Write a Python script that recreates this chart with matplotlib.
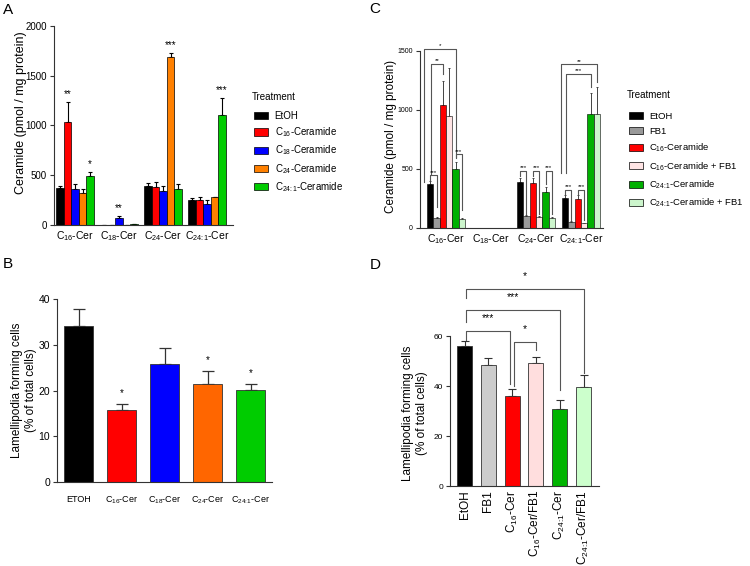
import matplotlib
matplotlib.use('Agg')
import matplotlib.pyplot as plt
from matplotlib.patches import Patch
import numpy as np

plt.rcParams['font.family'] = ['Liberation Sans', 'DejaVu Sans']
plt.rcParams['mathtext.default'] = 'regular'

# ---------------- data ----------------
# Panel A
groups_cer = ['C$_{16}$-Cer', 'C$_{18}$-Cer', 'C$_{24}$-Cer', r'C$_{24\!:\!1}$-Cer']
treat_a = ['EtOH', 'C$_{16}$-Ceramide', 'C$_{18}$-Ceramide', 'C$_{24}$-Ceramide', r'C$_{24\!:\!1}$-Ceramide']
a_mean = [[375, 2, 389, 251],
          [1032, 2, 379, 251],
          [365, 70, 345, 211],
          [318, 2, 1685, 278],
          [492, 5, 358, 1102]]
a_err = [[20, 0, 36, 20],
         [208, 0, 53, 30],
         [44, 20, 50, 37],
         [45, 0, 40, 7],
         [45, 2, 51, 171]]
a_stars = [(0, 1, '**'), (0, 4, '*'), (1, 2, '**'), (2, 3, '***'), (3, 4, '***')]
colors_a = ['#000000', '#ff0000', '#0000ff', '#ff8000', '#00cc00']

# Panel B
b_labels = ['ETOH', 'C$_{16}$-Cer', 'C$_{18}$-Cer', 'C$_{24}$-Cer', r'C$_{24\!:\!1}$-Cer']
b_mean = [34.2, 15.7, 25.8, 21.4, 20.1]
b_err = [3.6, 1.4, 3.4, 2.9, 1.4]
b_stars = ['', '*', '', '*', '*']
colors_b = ['#000000', '#ff0000', '#0000ff', '#ff6600', '#00cc00']

# Panel C
treat_c = ['EtOH', 'FB1', 'C$_{16}$-Ceramide', 'C$_{16}$-Ceramide + FB1',
           r'C$_{24\!:\!1}$-Ceramide', r'C$_{24\!:\!1}$-Ceramide + FB1']
c_mean = [[376, 3, 390, 254],
          [85, 2, 99, 51],
          [1040, 2, 384, 246],
          [946, 2, 93, 40],
          [503, 2, 308, 963],
          [79, 3, 88, 969]]
c_err = [[20, 0, 37, 23],
         [5, 0, 8, 5],
         [203, 0, 43, 36],
         [410, 0, 8, 5],
         [57, 0, 39, 181],
         [5, 0, 6, 226]]
colors_c = ['#000000', '#999999', '#ff0000', '#ffe4e4', '#00b000', '#ccf5cc']
# (group, left treatment, right treatment, height, left leg end, right leg end, text, left shift)
c_brackets = [(0, 0, 1, 446, 404, 178, '***', 0.0),
              (0, 0, 2, 1393, 460, 1308, '**', 0.02),
              (0, 0, 4, 1520, 388, 599, '*', -0.13),
              (0, 4, 5, 624, 593, 150, '***', 0.0),
              (2, 0, 1, 483, 438, 121, '***', 0.0),
              (2, 2, 3, 483, 438, 121, '***', 0.0),
              (2, 4, 5, 483, 370, 121, '***', 0.0),
              (3, 0, 1, 325, 291, 65, '***', 0.0),
              (3, 2, 3, 325, 291, 65, '***', 0.0),
              (3, 0, 4, 1308, 463, 1195, '***', 0.02),
              (3, 0, 5, 1387, 463, 1237, '**', -0.08)]

# Panel D
d_labels = ['EtOH', 'FB1', 'C$_{16}$-Cer', 'C$_{16}$-Cer/FB1', r'C$_{24\!:\!1}$-Cer', r'C$_{24\!:\!1}$-Cer/FB1']
d_mean = [56.0, 48.5, 36.1, 49.3, 30.7, 39.7]
d_err = [2.0, 2.8, 2.8, 2.4, 3.7, 4.8]
colors_d = ['#000000', '#cccccc', '#ff0000', '#ffdede', '#00b400', '#ccffcc']
# (left bar, right bar, height, left leg end, right leg end, text)
d_brackets = [(0, 2, 62.0, 58.6, 41.0, '***'),
              (2, 3, 57.6, 40.0, 54.4, '*'),
              (0, 4, 70.4, 65.6, 38.4, '***'),
              (0, 5, 78.8, 75.2, 45.2, '*')]

fig = plt.figure(figsize=(7.5, 5.66), dpi=100)

def style(ax, fs_tick):
    for s in ['top', 'right']:
        ax.spines[s].set_visible(False)
    for s in ['left', 'bottom']:
        ax.spines[s].set_linewidth(0.8)
        ax.spines[s].set_color('#333333')
    ax.tick_params(axis='y', labelsize=fs_tick, length=3, width=0.8, color='#333333', pad=2)
    ax.tick_params(axis='x', length=0, pad=3)

def bracket(ax, x1, x2, y, yb1, yb2, text, fs, off):
    ax.plot([x1, x1, x2, x2], [yb1, y, y, yb2], color='#555555', lw=0.8, clip_on=False)
    ax.annotate(text, ((x1 + x2) / 2, y), xytext=(0, off), textcoords='offset points',
                ha='center', va='bottom', fontsize=fs, annotation_clip=False)

def legend(ax, colors, labels, x, y, ty, fs, sp):
    handles = [Patch(facecolor=c, edgecolor='black', linewidth=0.5) for c in colors]
    ax.legend(handles, labels, loc='upper left', bbox_to_anchor=(x, y),
              bbox_transform=fig.transFigure, frameon=False, fontsize=fs,
              handlelength=1.45, handleheight=0.75, labelspacing=sp, borderpad=0,
              borderaxespad=0, handletextpad=0.65)
    fig.text(x - 0.003, ty, 'Treatment', fontsize=7, ha='left', va='center')

# ---------------- A ----------------
ax = fig.add_axes([0.072, 0.6025, 0.2387, 0.3516])
gx = np.arange(len(groups_cer))
bw = 0.85 / len(treat_a)
for t in range(len(treat_a)):
    xs = gx + (t - 2) * bw
    ax.bar(xs, a_mean[t], bw, color=colors_a[t], edgecolor='black', linewidth=0.5, zorder=2)
    ax.errorbar(xs, a_mean[t], yerr=[np.zeros(4), a_err[t]], fmt='none', ecolor='black',
                elinewidth=0.8, capsize=1.5, capthick=0.8, zorder=1)
for g, t, s in a_stars:
    ax.annotate(s, (g + (t - 2) * bw, a_mean[t][g] + a_err[t][g]), xytext=(0, 2),
                textcoords='offset points', ha='center', va='bottom', fontsize=7)
ax.set_xlim(-0.48, 3.59)
ax.set_ylim(0, 2000)
ax.set_yticks([0, 500, 1000, 1500, 2000])
ax.set_xticks(gx)
ax.set_xticklabels(groups_cer, fontsize=7.5)
style(ax, 7)
ax.set_ylabel('Ceramide (pmol / mg protein)', fontsize=9)
ax.yaxis.set_label_coords(-0.15, 0.563)
legend(ax, colors_a, treat_a, 0.339, 1 - 111 / 566, 1 - 97 / 566, 7, 0.45)

# ---------------- B ----------------
ax = fig.add_axes([0.076, 0.1484, 0.2867, 0.3233])
bx = np.arange(len(b_labels))
ax.bar(bx, b_mean, 0.67, color=colors_b, edgecolor='#333333', linewidth=0.6, zorder=2)
ax.errorbar(bx, b_mean, yerr=[np.zeros(5), b_err], fmt='none', ecolor='#333333',
            elinewidth=0.9, capsize=4, capthick=0.9, zorder=1)
for i, s in enumerate(b_stars):
    if s:
        ax.annotate(s, (bx[i], b_mean[i] + b_err[i]), xytext=(0, 4), textcoords='offset points',
                    ha='center', va='bottom', fontsize=7)
ax.set_xlim(-0.5, 4.5)
ax.set_ylim(0, 40)
ax.set_yticks([0, 10, 20, 30, 40])
ax.set_xticks(bx)
ax.set_xticklabels(b_labels, fontsize=6.5)
style(ax, 7.5)
ax.tick_params(axis='x', pad=9)
ax.set_ylabel('Lamellipodia forming cells\n(% of total cells)', fontsize=8.5)
ax.yaxis.set_label_coords(-0.093, 0.5)

# ---------------- C ----------------
ax = fig.add_axes([0.56, 0.5972, 0.244, 0.3127])
bwc = 0.85 / len(treat_c)
for t in range(len(treat_c)):
    xs = gx + (t - 2.5) * bwc
    ax.bar(xs, c_mean[t], bwc, color=colors_c[t], edgecolor='black', linewidth=0.4, zorder=2)
    ax.errorbar(xs, c_mean[t], yerr=[np.zeros(4), c_err[t]], fmt='none', ecolor='#444444',
                elinewidth=0.7, capsize=1, capthick=0.7, zorder=1)
for g, t1, t2, y, yb1, yb2, s, dx in c_brackets:
    x1 = g + (t1 - 2.5) * bwc + dx
    x2 = g + (t2 - 2.5) * bwc
    bracket(ax, x1, x2, y, yb1, yb2, s, 4.5, 0.5)
ax.set_xlim(-0.58, 3.49)
ax.set_ylim(0, 1500)
ax.set_yticks([0, 500, 1000, 1500])
ax.set_xticks(gx)
ax.set_xticklabels(groups_cer, fontsize=7.5)
style(ax, 5)
ax.set_ylabel('Ceramide (pmol / mg protein)', fontsize=8.5)
ax.yaxis.set_label_coords(-0.126, 0.52)
legend(ax, colors_c, treat_c, 0.839, 1 - 112 / 566, 1 - 95 / 566, 6.8, 0.62)

# ---------------- D ----------------
ax = fig.add_axes([0.6, 0.1413, 0.1987, 0.265])
dx_ = np.arange(len(d_labels))
ax.bar(dx_, d_mean, 0.63, color=colors_d, edgecolor='#333333', linewidth=0.6, zorder=2)
ax.errorbar(dx_, d_mean, yerr=[np.zeros(6), d_err], fmt='none', ecolor='#333333',
            elinewidth=0.8, capsize=3, capthick=0.8, zorder=1)
for i, j, y, yb1, yb2, s in d_brackets:
    sh = 0.09 if i == 2 else 0.06
    x2 = j - 0.09 if (j == 2) else j
    bracket(ax, i + sh, x2, y, yb1, yb2, s, 7.5, 6)
ax.set_xlim(-0.61, 5.65)
ax.set_ylim(0, 60)
ax.set_yticks([0, 20, 40, 60])
ax.set_xticks(dx_)
ax.set_xticklabels(d_labels, fontsize=8.5, rotation=90)
style(ax, 6)
ax.set_ylabel('Lamellipodia forming cells\n(% of total cells)', fontsize=8.5)
ax.yaxis.set_label_coords(-0.148, 0.487)

# panel letters
for lab, x, y in [('A', 0.004, 0.97), ('B', 0.004, 0.522), ('C', 0.493, 0.972), ('D', 0.493, 0.52)]:
    fig.text(x, y, lab, fontsize=11, ha='left', va='bottom')

fig.savefig('out.png', dpi=100, facecolor='white')
